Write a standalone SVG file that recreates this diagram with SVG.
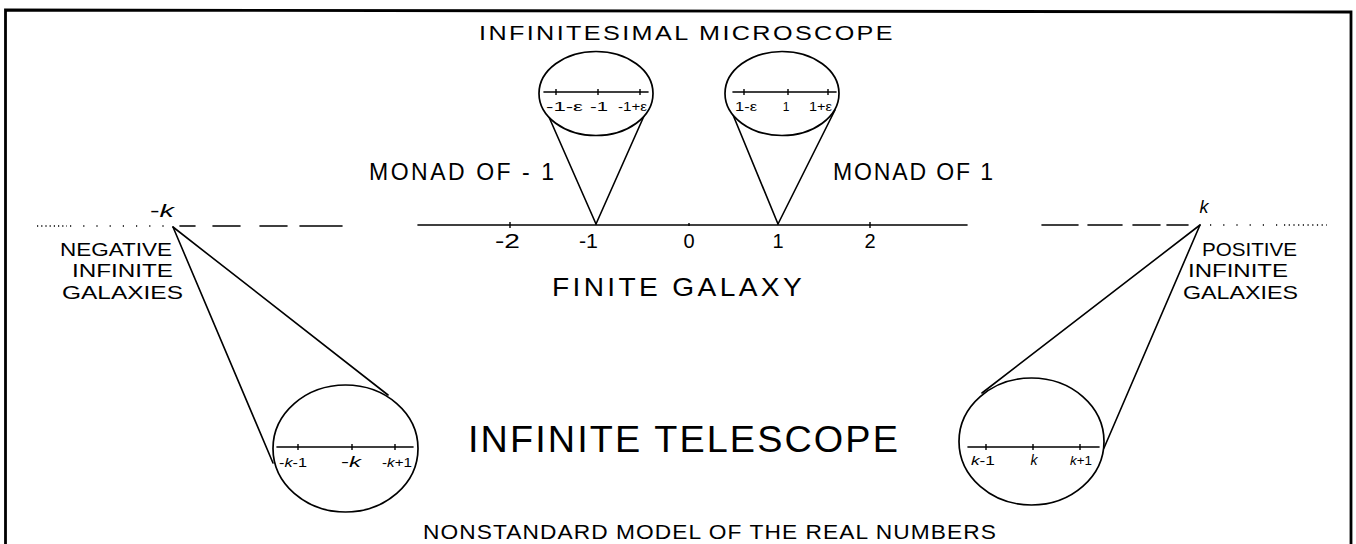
<svg xmlns="http://www.w3.org/2000/svg" width="1356" height="544" viewBox="0 0 1356 544">
<style>
.ln{stroke:#000;stroke-width:1.6;fill:none;stroke-linecap:round}
.bd{stroke:#000;stroke-width:2.8;fill:none}
.lens{stroke:#000;stroke-width:1.7;fill:#fff}
.tk{stroke:#000;stroke-width:1.4}
.dot{stroke:#000;stroke-width:1.6;fill:none}
.t{font-family:"Liberation Sans",Arial,sans-serif;fill:#000}
.lab{font-size:20px}
.gal{font-size:18px}
.sm{font-size:12px}
.it{font-style:italic}
</style>
<rect width="1356" height="544" fill="#fff"/>
<g id="frame">
  <path class="bd" d="M5.5 544 V10 L1351 12 V544"/>
</g>
<g id="connectors">
  <line class="ln" x1="545" y1="108" x2="596" y2="224"/>
  <line class="ln" x1="648" y1="107" x2="596" y2="224"/>
  <line class="ln" x1="731" y1="110" x2="778" y2="224"/>
  <line class="ln" x1="835" y1="110" x2="778" y2="224"/>
  <line class="ln" x1="173" y1="227" x2="273" y2="463"/>
  <line class="ln" x1="173" y1="227" x2="388" y2="395"/>
  <line class="ln" x1="1200" y1="225" x2="982" y2="393"/>
  <line class="ln" x1="1200" y1="225" x2="1104" y2="448"/>
</g>
<g id="number-line">
  <line class="ln" x1="418" y1="225" x2="967" y2="225"/>
  <line class="tk" x1="510" y1="222" x2="510" y2="228"/>
  <line class="tk" x1="689" y1="223" x2="689" y2="226"/>
  <line class="tk" x1="870" y1="222" x2="870" y2="228"/>
  <path class="ln" d="M180 226 H195 M213 226 H240 M260 226 H287 M300 226 H342"/>
  <path class="dot" stroke-dasharray="1.2 3" d="M37 226 H67"/>
  <path class="dot" stroke-dasharray="1.2 12" d="M70 226 H172"/>
  <path class="ln" d="M1042 225 H1078 M1088 225 H1122 M1133 225 H1160 M1167 225 H1188"/>
  <path class="dot" stroke-dasharray="1.2 12" d="M1210 225 H1280"/>
  <path class="dot" stroke-dasharray="1.2 3.5" d="M1284 225 H1327"/>
  <text class="t lab" x="495" y="248" textLength="25" lengthAdjust="spacingAndGlyphs">-2</text>
  <text class="t lab" x="579" y="248" textLength="19" lengthAdjust="spacingAndGlyphs">-1</text>
  <text class="t lab" x="689" y="248" text-anchor="middle">0</text>
  <text class="t lab" x="778" y="248" text-anchor="middle">1</text>
  <text class="t lab" x="870" y="248" text-anchor="middle">2</text>
  <text class="t" font-size="18" x="150" y="217" textLength="24" lengthAdjust="spacingAndGlyphs">-<tspan class="it">k</tspan></text>
  <text class="t it" font-size="18" x="1204" y="213" text-anchor="middle">k</text>
</g>
<g id="title">
  <text class="t" font-size="21" letter-spacing="2" x="479" y="40" textLength="416" lengthAdjust="spacingAndGlyphs">INFINITESIMAL  MICROSCOPE</text>
</g>
<g id="monad-neg1">
  <text class="t" font-size="23" x="369" y="180" textLength="185" lengthAdjust="spacing">MONAD OF - 1</text>
</g>
<g id="monad-1">
  <text class="t" font-size="23" x="833" y="180" textLength="160" lengthAdjust="spacing">MONAD OF 1</text>
</g>
<g id="microscope-neg1">
  <ellipse class="lens" cx="596" cy="93.5" rx="57" ry="42"/>
  <line class="ln" x1="544" y1="92" x2="648" y2="92"/>
  <line class="tk" x1="556" y1="89" x2="556" y2="95"/>
  <line class="tk" x1="598" y1="89" x2="598" y2="95"/>
  <line class="tk" x1="640" y1="89" x2="640" y2="95"/>
  <text class="t sm" x="546" y="111" textLength="37" lengthAdjust="spacingAndGlyphs">-1-ε</text>
  <text class="t sm" x="590" y="111" textLength="18" lengthAdjust="spacingAndGlyphs">-1</text>
  <text class="t sm" x="618" y="111" textLength="29" lengthAdjust="spacingAndGlyphs">-1+ε</text>
</g>
<g id="microscope-1">
  <ellipse class="lens" cx="782" cy="93.5" rx="57" ry="42"/>
  <line class="ln" x1="733" y1="92" x2="836" y2="92"/>
  <line class="tk" x1="744" y1="89" x2="744" y2="95"/>
  <line class="tk" x1="788" y1="89" x2="788" y2="95"/>
  <line class="tk" x1="828" y1="89" x2="828" y2="95"/>
  <text class="t sm" x="735" y="111" textLength="22" lengthAdjust="spacingAndGlyphs">1-ε</text>
  <text class="t sm" x="786" y="111" text-anchor="middle">1</text>
  <text class="t sm" x="809" y="111" textLength="23" lengthAdjust="spacingAndGlyphs">1+ε</text>
</g>
<g id="finite-galaxy">
  <text class="t" font-size="25" letter-spacing="3" x="552" y="296" textLength="253" lengthAdjust="spacingAndGlyphs">FINITE GALAXY</text>
</g>
<g id="negative-galaxies">
  <text class="t gal" x="60" y="256" textLength="112" lengthAdjust="spacingAndGlyphs">NEGATIVE</text>
  <text class="t gal" x="72" y="277" textLength="101" lengthAdjust="spacingAndGlyphs">INFINITE</text>
  <text class="t gal" x="62" y="299" textLength="121" lengthAdjust="spacingAndGlyphs">GALAXIES</text>
</g>
<g id="positive-galaxies">
  <text class="t gal" x="1202" y="256" textLength="95" lengthAdjust="spacingAndGlyphs">POSITIVE</text>
  <text class="t gal" x="1188" y="277" textLength="100" lengthAdjust="spacingAndGlyphs">INFINITE</text>
  <text class="t gal" x="1183" y="299" textLength="115" lengthAdjust="spacingAndGlyphs">GALAXIES</text>
</g>
<g id="telescope-neg">
  <ellipse class="lens" cx="345.5" cy="448.5" rx="72.5" ry="63.5"/>
  <line class="ln" x1="277" y1="447" x2="413" y2="447"/>
  <line class="tk" x1="298" y1="444" x2="298" y2="450"/>
  <line class="tk" x1="352" y1="444" x2="352" y2="450"/>
  <line class="tk" x1="395" y1="444" x2="395" y2="450"/>
  <text class="t" font-size="13" x="279" y="467" textLength="28" lengthAdjust="spacingAndGlyphs">-<tspan class="it">k</tspan>-1</text>
  <text class="t" font-size="14" x="341" y="467" textLength="20" lengthAdjust="spacingAndGlyphs">-<tspan class="it">k</tspan></text>
  <text class="t" font-size="13" x="382" y="467" textLength="30" lengthAdjust="spacingAndGlyphs">-<tspan class="it">k</tspan>+1</text>
</g>
<g id="telescope-pos">
  <ellipse class="lens" cx="1031.5" cy="441.5" rx="72.5" ry="63.5"/>
  <line class="ln" x1="968" y1="447" x2="1099" y2="447"/>
  <line class="tk" x1="986" y1="444" x2="986" y2="450"/>
  <line class="tk" x1="1033" y1="444" x2="1033" y2="450"/>
  <line class="tk" x1="1080" y1="444" x2="1080" y2="450"/>
  <text class="t" font-size="13" x="971" y="465" textLength="24" lengthAdjust="spacingAndGlyphs"><tspan class="it">k</tspan>-1</text>
  <text class="t it" font-size="14" x="1034" y="465" text-anchor="middle">k</text>
  <text class="t" font-size="13" x="1070" y="465" textLength="22" lengthAdjust="spacingAndGlyphs"><tspan class="it">k</tspan>+1</text>
</g>
<g id="infinite-telescope">
  <text class="t" font-size="36" letter-spacing="2" x="468" y="452" textLength="432" lengthAdjust="spacingAndGlyphs">INFINITE TELESCOPE</text>
</g>
<g id="caption">
  <text class="t" font-size="21" letter-spacing="1" x="423" y="539" textLength="574" lengthAdjust="spacingAndGlyphs">NONSTANDARD  MODEL  OF THE REAL NUMBERS</text>
</g>
</svg>
